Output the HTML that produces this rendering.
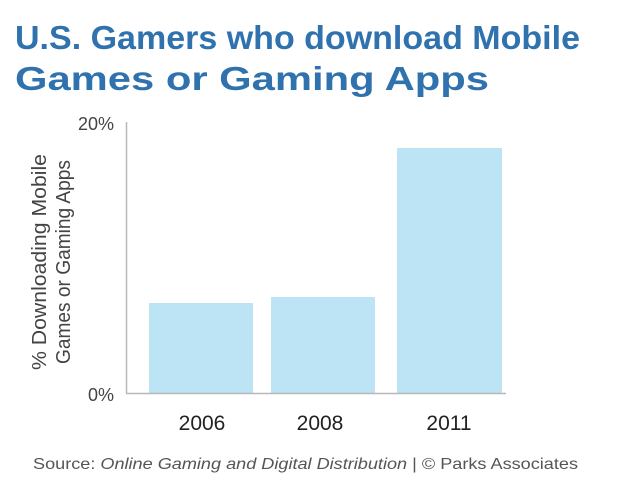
<!DOCTYPE html>
<html><head><meta charset="utf-8"><style>
html,body{margin:0;padding:0;background:#fff;}
svg{display:block;}
</style></head><body>
<svg width="622" height="499" viewBox="0 0 622 499" xmlns="http://www.w3.org/2000/svg">
<rect width="622" height="499" fill="#fff"/>
<g font-family="Liberation Sans, sans-serif" font-weight="bold" fill="#2f72ad" font-size="33">
<text x="15" y="49" textLength="565" lengthAdjust="spacingAndGlyphs">U.S. Gamers who download Mobile</text>
<text x="15" y="90" textLength="474" lengthAdjust="spacingAndGlyphs">Games or Gaming Apps</text>
</g>
<rect x="149" y="303" width="104" height="90" fill="#bce4f4"/>
<rect x="271" y="297" width="104" height="96" fill="#bce4f4"/>
<rect x="397" y="148" width="105" height="245" fill="#bce4f4"/>
<line x1="126.5" y1="122" x2="126.5" y2="393.5" stroke="#b8b8b8" stroke-width="1.5"/>
<line x1="126" y1="393.5" x2="506" y2="393.5" stroke="#b8b8b8" stroke-width="1.5"/>
<g font-family="Liberation Sans, sans-serif" fill="#444" font-size="18">
<text x="114" y="130" text-anchor="end">20%</text>
<text x="114" y="401" text-anchor="end">0%</text>
</g>
<g font-family="Liberation Sans, sans-serif" fill="#444" font-size="20">
<text transform="translate(46,262) rotate(-90)" text-anchor="middle" textLength="216" lengthAdjust="spacingAndGlyphs">% Downloading Mobile</text>
<text transform="translate(70,262) rotate(-90)" text-anchor="middle" textLength="204" lengthAdjust="spacingAndGlyphs">Games or Gaming Apps</text>
</g>
<g font-family="Liberation Sans, sans-serif" fill="#222" font-size="21">
<text x="202" y="430" text-anchor="middle">2006</text>
<text x="320" y="430" text-anchor="middle">2008</text>
<text x="449" y="430" text-anchor="middle">2011</text>
</g>
<g font-family="Liberation Sans, sans-serif" fill="#555" font-size="16">
<text x="33" y="469" textLength="545" lengthAdjust="spacingAndGlyphs">Source: <tspan font-style="italic">Online Gaming and Digital Distribution</tspan>  |  © Parks Associates</text>
</g>
</svg>
</body></html>
